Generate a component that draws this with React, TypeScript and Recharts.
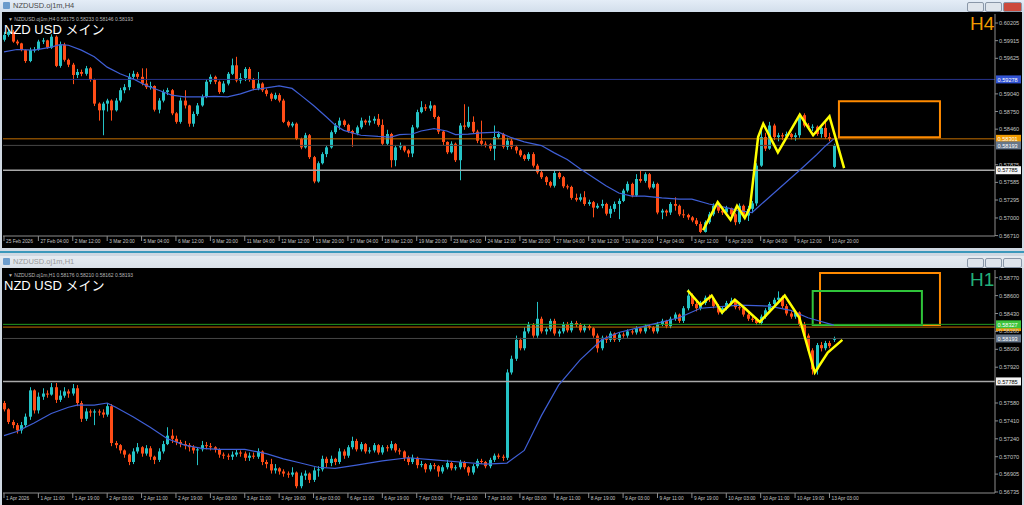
import React from "react";
import {
  ComposedChart,
  Bar,
  Line,
  XAxis,
  YAxis,
  ReferenceLine,
  ReferenceArea,
} from "recharts";

// candles: [open, high, low, close] in pips (x 0.0001)
type Candle = [number, number, number, number];

const h4Candles: Candle[] = [
  [5993,6006,5990,6001],[6001,6010,5998,6006],[6006,6009,5988,5990],[5990,5993,5984,5987],[5987,5988,5974,5976],[5976,5977,5955,5958],[5958,5980,5956,5976],[5976,5981,5972,5977],
  [5977,5993,5975,5990],[5990,5996,5986,5992],[5992,5993,5978,5980],[5980,6002,5978,5998],[5998,6000,5948,5950],[5950,5990,5947,5985],[5985,5988,5957,5960],[5960,5962,5948,5952],
  [5952,5955,5920,5935],[5935,5945,5930,5940],[5940,5944,5933,5937],[5937,5950,5934,5946],[5946,5948,5924,5927],[5927,5929,5884,5888],[5888,5890,5860,5877],[5877,5891,5836,5888],
  [5888,5896,5875,5893],[5893,5895,5860,5877],[5877,5897,5875,5893],[5893,5914,5890,5910],[5910,5920,5905,5915],[5915,5938,5910,5932],[5932,5942,5928,5937],[5937,5940,5928,5932],
  [5932,5946,5918,5921],[5921,5946,5912,5915],[5915,5924,5911,5917],[5917,5918,5875,5878],[5878,5897,5872,5893],[5893,5911,5890,5907],[5907,5914,5902,5910],[5910,5912,5869,5872],
  [5872,5874,5855,5858],[5858,5898,5855,5893],[5893,5910,5880,5885],[5885,5886,5850,5855],[5855,5875,5850,5871],[5871,5889,5868,5885],[5885,5903,5883,5899],[5899,5928,5897,5924],
  [5924,5936,5920,5932],[5932,5934,5920,5924],[5924,5926,5904,5907],[5907,5925,5905,5921],[5921,5940,5918,5937],[5937,5962,5935,5951],[5951,5965,5923,5926],[5926,5938,5921,5930],
  [5930,5948,5925,5945],[5945,5948,5924,5927],[5927,5930,5910,5913],[5913,5940,5910,5921],[5921,5923,5907,5910],[5910,5913,5900,5904],[5904,5906,5892,5896],[5896,5906,5894,5902],
  [5902,5905,5890,5893],[5893,5896,5856,5858],[5858,5860,5849,5852],[5852,5858,5849,5855],[5855,5857,5828,5830],[5830,5832,5813,5816],[5816,5840,5814,5836],[5836,5838,5797,5800],
  [5800,5802,5757,5760],[5760,5793,5758,5790],[5790,5808,5788,5805],[5805,5819,5800,5816],[5816,5844,5814,5841],[5841,5856,5838,5852],[5852,5865,5845,5860],[5860,5862,5850,5853],
  [5853,5855,5840,5843],[5843,5845,5817,5839],[5839,5852,5836,5849],[5849,5865,5846,5860],[5860,5862,5853,5857],[5857,5868,5852,5860],[5860,5867,5855,5863],[5863,5871,5850,5853],
  [5853,5862,5820,5822],[5822,5845,5820,5838],[5838,5840,5783,5795],[5795,5820,5785,5816],[5816,5824,5812,5818],[5818,5820,5808,5811],[5811,5813,5800,5806],[5806,5853,5800,5849],
  [5849,5878,5847,5874],[5874,5892,5872,5882],[5882,5887,5876,5880],[5880,5892,5876,5885],[5885,5886,5863,5866],[5866,5868,5838,5842],[5842,5844,5820,5825],[5825,5826,5805,5808],
  [5808,5826,5806,5822],[5822,5824,5792,5795],[5795,5856,5762,5852],[5852,5887,5845,5850],[5850,5883,5848,5858],[5858,5867,5838,5842],[5842,5845,5823,5827],[5827,5860,5818,5822],
  [5822,5826,5816,5821],[5821,5823,5810,5814],[5814,5852,5795,5833],[5833,5842,5830,5838],[5838,5840,5814,5817],[5817,5832,5812,5827],[5827,5830,5813,5817],[5817,5820,5806,5811],
  [5811,5813,5800,5803],[5803,5805,5794,5797],[5797,5808,5794,5805],[5805,5808,5783,5786],[5786,5789,5772,5775],[5775,5778,5764,5767],[5767,5769,5754,5759],[5759,5761,5750,5753],
  [5753,5778,5750,5774],[5774,5776,5764,5767],[5767,5769,5749,5752],[5752,5755,5747,5751],[5751,5753,5730,5733],[5733,5740,5727,5730],[5730,5740,5727,5734],[5734,5744,5720,5723],
  [5723,5730,5720,5726],[5726,5728,5701,5717],[5717,5724,5715,5720],[5720,5730,5716,5723],[5723,5725,5704,5707],[5707,5720,5700,5715],[5715,5727,5710,5723],[5723,5732,5698,5728],
  [5728,5748,5726,5745],[5745,5760,5742,5756],[5756,5758,5734,5737],[5737,5772,5735,5764],[5764,5778,5758,5761],[5761,5775,5758,5772],[5772,5774,5747,5750],[5750,5760,5748,5756],
  [5756,5758,5706,5709],[5709,5715,5698,5712],[5712,5714,5703,5709],[5709,5726,5705,5723],[5723,5734,5712,5720],[5720,5722,5703,5706],[5706,5714,5700,5705],[5705,5707,5697,5701],
  [5701,5703,5693,5696],[5696,5700,5687,5690],[5690,5694,5675,5677],[5677,5696,5676,5693],[5693,5710,5690,5706],[5706,5724,5703,5720],[5720,5722,5708,5712],[5712,5715,5705,5709],
  [5709,5720,5706,5716],[5716,5717,5702,5706],[5706,5708,5688,5693],[5693,5724,5690,5720],[5720,5722,5700,5704],[5704,5720,5695,5715],[5715,5728,5708,5724],[5724,5790,5720,5786],
  [5786,5850,5784,5833],[5833,5840,5810,5814],[5814,5858,5812,5852],[5852,5855,5828,5833],[5833,5840,5826,5836],[5836,5840,5828,5834],[5834,5842,5830,5838],[5838,5840,5829,5833],
  [5833,5840,5827,5836],[5836,5872,5832,5869],[5869,5872,5849,5852],[5852,5856,5845,5849],[5849,5854,5843,5850],[5850,5852,5835,5838],[5838,5852,5832,5848],[5848,5860,5830,5833],
  [5833,5840,5826,5830],[5784,5822,5782,5819],
];

const h1Candles: Candle[] = [
  [5758,5760,5750,5752],[5752,5753,5738,5740],[5740,5742,5734,5737],[5737,5739,5729,5732],[5732,5740,5729,5737],[5737,5748,5735,5745],[5745,5773,5742,5770],[5770,5771,5748,5751],
  [5751,5768,5748,5764],[5764,5772,5761,5767],[5767,5770,5763,5766],[5766,5777,5765,5773],[5773,5777,5758,5761],[5761,5770,5759,5765],[5765,5773,5763,5769],[5769,5771,5763,5767],
  [5767,5776,5765,5772],[5772,5775,5755,5758],[5758,5760,5740,5743],[5743,5753,5741,5750],[5750,5752,5745,5749],[5749,5752,5737,5750],[5750,5752,5746,5749],[5749,5752,5744,5747],
  [5747,5758,5745,5755],[5755,5757,5717,5720],[5720,5722,5715,5718],[5718,5719,5710,5713],[5713,5714,5706,5709],[5709,5710,5699,5702],[5702,5715,5700,5712],[5712,5720,5710,5716],
  [5716,5717,5707,5710],[5710,5718,5708,5715],[5715,5717,5704,5707],[5707,5708,5700,5704],[5704,5715,5702,5712],[5712,5722,5710,5719],[5719,5735,5718,5727],[5727,5733,5720,5724],
  [5724,5727,5718,5721],[5721,5723,5716,5719],[5719,5722,5714,5718],[5718,5720,5712,5716],[5716,5718,5710,5713],[5713,5716,5699,5714],[5714,5722,5712,5718],[5718,5721,5714,5717],
  [5717,5720,5713,5716],[5716,5717,5711,5714],[5714,5715,5706,5709],[5709,5711,5705,5708],[5708,5710,5704,5707],[5707,5712,5704,5709],[5709,5714,5707,5711],[5711,5713,5707,5710],
  [5710,5712,5703,5706],[5706,5711,5703,5708],[5708,5711,5705,5707],[5707,5715,5705,5712],[5712,5713,5699,5702],[5702,5704,5696,5700],[5700,5705,5691,5694],[5694,5700,5691,5696],
  [5696,5697,5690,5693],[5693,5695,5688,5691],[5691,5693,5687,5690],[5690,5697,5688,5692],[5692,5693,5677,5679],[5679,5692,5677,5689],[5689,5694,5685,5691],[5691,5692,5682,5685],
  [5685,5697,5683,5694],[5694,5698,5688,5695],[5695,5708,5693,5705],[5705,5707,5697,5701],[5701,5708,5698,5705],[5705,5706,5699,5702],[5702,5715,5700,5712],[5712,5714,5705,5708],
  [5708,5718,5706,5716],[5716,5726,5714,5722],[5722,5724,5712,5714],[5714,5721,5712,5719],[5719,5720,5710,5712],[5712,5716,5710,5713],[5713,5720,5711,5718],[5718,5719,5709,5711],
  [5711,5718,5709,5716],[5716,5718,5712,5715],[5715,5722,5713,5719],[5719,5720,5711,5713],[5713,5715,5709,5712],[5712,5713,5703,5706],[5706,5708,5699,5702],[5702,5709,5700,5706],
  [5706,5707,5696,5699],[5699,5703,5697,5700],[5700,5701,5692,5695],[5695,5701,5693,5699],[5699,5701,5695,5698],[5698,5699,5688,5693],[5693,5699,5691,5697],[5697,5704,5695,5701],
  [5701,5702,5694,5696],[5696,5699,5694,5697],[5697,5704,5695,5702],[5702,5703,5695,5697],[5697,5698,5689,5692],[5692,5700,5690,5698],[5698,5705,5696,5703],[5703,5705,5700,5702],
  [5702,5703,5696,5698],[5698,5706,5696,5704],[5704,5710,5702,5708],[5708,5710,5705,5707],[5707,5709,5703,5706],[5706,5790,5704,5787],[5787,5803,5785,5800],[5800,5822,5798,5818],
  [5818,5820,5808,5810],[5810,5830,5808,5826],[5826,5835,5824,5832],[5832,5834,5820,5822],[5822,5854,5820,5838],[5838,5840,5824,5826],[5826,5830,5823,5828],[5828,5838,5826,5836],
  [5836,5838,5822,5824],[5824,5828,5821,5826],[5826,5835,5824,5833],[5833,5835,5825,5827],[5827,5836,5825,5834],[5834,5836,5830,5832],[5832,5834,5825,5827],[5827,5833,5825,5831],
  [5831,5833,5827,5829],[5829,5830,5820,5822],[5822,5824,5806,5810],[5810,5822,5808,5820],[5820,5822,5815,5818],[5818,5826,5816,5824],[5824,5825,5816,5818],[5818,5825,5816,5823],
  [5823,5825,5820,5822],[5822,5828,5820,5826],[5826,5828,5823,5825],[5825,5831,5823,5829],[5829,5830,5824,5826],[5826,5833,5824,5831],[5831,5833,5828,5830],[5830,5831,5824,5826],
  [5826,5835,5824,5833],[5833,5838,5831,5836],[5836,5837,5829,5831],[5831,5840,5829,5838],[5838,5844,5836,5842],[5842,5843,5834,5836],[5836,5850,5834,5848],[5848,5866,5846,5860],
  [5860,5862,5850,5852],[5852,5854,5845,5848],[5848,5855,5846,5853],[5853,5860,5851,5858],[5858,5861,5854,5857],[5857,5858,5848,5850],[5850,5852,5842,5844],[5844,5850,5842,5848],
  [5848,5855,5846,5853],[5853,5858,5851,5855],[5855,5856,5847,5849],[5849,5851,5846,5848],[5848,5849,5840,5842],[5842,5844,5836,5838],[5838,5840,5835,5837],[5837,5839,5832,5834],
  [5834,5842,5832,5840],[5840,5848,5838,5846],[5846,5854,5844,5852],[5852,5858,5850,5856],[5856,5864,5854,5858],[5858,5860,5848,5850],[5850,5852,5841,5843],[5843,5845,5838,5840],
  [5840,5846,5838,5844],[5844,5845,5831,5833],[5833,5835,5820,5822],[5822,5824,5806,5808],[5808,5810,5785,5790],[5790,5815,5785,5813],[5813,5816,5807,5810],[5810,5817,5808,5815],
  [5815,5817,5810,5812],[5818,5821,5816,5819],
];

// moving average: [bar, pips]
const h4Ma: [number, number][] = [
  [0,5973],[3,5977],[7,5976],[11,5981],[13,5985],[15,5984],[18,5976],[21,5965],[24,5948],[27,5937],[30,5929],[33,5918],
  [36,5910],[39,5902],[42,5899],[46,5899],[49,5900],[52,5899],[55,5904],[58,5911],[61,5914],[64,5917],[67,5913],[69,5902],
  [72,5885],[75,5866],[77,5853],[79,5844],[83,5836],[87,5834],[90,5833],[92,5837],[95,5838],[97,5843],[100,5847],[103,5843],
  [105,5837],[108,5838],[111,5840],[115,5841],[118,5832],[121,5825],[125,5819],[128,5807],[131,5796],[134,5781],[137,5767],[140,5753],
  [143,5741],[146,5736],[149,5736],[153,5733],[157,5731],[160,5731],[164,5723],[168,5717],[171,5712],[174,5709],[177,5728],[181,5753],
  [185,5778],[189,5804],[191,5818],[193,5830],
];
const h1Ma: [number, number][] = [
  [0,5727],[3,5731],[7,5739],[11,5748],[15,5754],[17,5756],[21,5756],[24,5758],[26,5754],[30,5745],[34,5735],[38,5724],
  [42,5718],[46,5715],[50,5714],[53,5714],[56,5714],[61,5710],[65,5705],[69,5701],[73,5697],[77,5696],[82,5699],[88,5703],
  [94,5706],[100,5704],[106,5702],[112,5700],[117,5701],[121,5713],[125,5746],[129,5775],[134,5799],[139,5818],[143,5825],[150,5832],
  [157,5839],[162,5848],[171,5851],[178,5850],[183,5846],[187,5839],[193,5832],
];

// hand-drawn yellow zigzags: [bar, pips]
const h4Zig: [number, number][] = [
  [162.6,5680],[166,5726],[169,5697],[170.5,5720],[172.3,5700],[173.5,5717],[175.4,5833],[176.6,5855],[180,5808],[185.1,5870],[188.2,5836],[192,5867],[195.4,5782],
];
const h1Zig: [number, number][] = [
  [159,5865],[162,5851],[164.6,5860],[167,5844],[170,5856],[172.3,5848],[175.8,5835],[181.6,5860],[185,5839],[188.6,5787],[191.6,5806],[195,5818],
];

// horizontal levels and boxes
const h4Levels: [number, string][] = [[0.59278, "blue"], [0.58301, "orange"], [0.58193, "bid"], [0.57785, "white"]];
const h1Levels: [number, string][] = [[0.58301, "orangeUnder"], [0.58327, "green"], [0.58193, "bid"], [0.57785, "white"]];
const h4Boxes: [number, number, number, number, string][] = [[194.2, 217.7, 0.58325, 0.5892, "orange"]];
const h1Boxes: [number, number, number, number, string][] = [
  [189.8, 217.7, 0.5832, 0.58814, "orange"],
  [188.1, 213.5, 0.5832, 0.58643, "green"],
];

const h4Times = ["25 Feb 2026","27 Feb 04:00","2 Mar 12:00","3 Mar 20:00","5 Mar 04:00","6 Mar 12:00","9 Mar 20:00","11 Mar 04:00","12 Mar 12:00","13 Mar 20:00","17 Mar 04:00","18 Mar 12:00","19 Mar 20:00","23 Mar 04:00","24 Mar 12:00","25 Mar 20:00","27 Mar 04:00","30 Mar 12:00","31 Mar 20:00","2 Apr 04:00","3 Apr 12:00","6 Apr 20:00","8 Apr 04:00","9 Apr 12:00","10 Apr 20:00"];
const h1Times = ["1 Apr 2026","1 Apr 11:00","1 Apr 19:00","2 Apr 03:00","2 Apr 11:00","2 Apr 19:00","3 Apr 03:00","3 Apr 11:00","3 Apr 19:00","6 Apr 03:00","6 Apr 11:00","6 Apr 19:00","7 Apr 03:00","7 Apr 11:00","7 Apr 19:00","8 Apr 03:00","8 Apr 11:00","8 Apr 19:00","9 Apr 03:00","9 Apr 11:00","9 Apr 19:00","10 Apr 03:00","10 Apr 11:00","10 Apr 19:00","13 Apr 03:00"];

const h4PriceTicks = [0.60205, 0.59915, 0.59625, 0.5904, 0.5875, 0.5846, 0.57875, 0.57585, 0.57295, 0.57, 0.5671];
const h1PriceTicks = [0.5877, 0.586, 0.5843, 0.5826, 0.5809, 0.5792, 0.5758, 0.5741, 0.5724, 0.5707, 0.56905, 0.56735];

const BULL = "#25c3c6";
const BEAR = "#ff4d17";
const AXIS = "#8c8c8c";
const TXT = "#c4c4c4";
const FONT = "'Liberation Sans', Arial, sans-serif";

const LEVEL_STYLE: Record<string, { line: string; w: number; tag: string; ink: string | null }> = {
  blue: { line: "#27348c", w: 1, tag: "#3153d4", ink: "#ffffff" },
  orange: { line: "#c46f00", w: 1, tag: "#f09a00", ink: "#ffffff" },
  orangeUnder: { line: "#c46f00", w: 1, tag: "#f09a00", ink: null },
  green: { line: "#229a22", w: 1, tag: "#3cc43c", ink: "#ffffff" },
  bid: { line: "#474747", w: 1, tag: "#66768a", ink: "#ffffff" },
  white: { line: "#a8a8a8", w: 1.5, tag: "#f4f4f4", ink: "#000000" },
};
const BOX_STYLE: Record<string, string> = { orange: "#ff8a00", green: "#2fc43a" };

const X_DOMAIN: [number, number] = [-0.23, 230.5];

const toRows = (list: Candle[]) =>
  list.map(([o, h, l, c], i) => ({ x: i, o: o / 1e4, h: h / 1e4, l: l / 1e4, c: c / 1e4 }));
const toPts = (list: [number, number][]) => list.map(([x, v]) => ({ x, v: v / 1e4 }));

const CandleShape = (props: any) => {
  const { x, y, width, height, payload } = props;
  if (!payload || y == null || isNaN(y)) return null;
  const { o, h, l, c } = payload;
  const color = c >= o ? BULL : BEAR;
  const cx = Math.round(x + width / 2) + 0.5;
  const top = Math.min(y, y + height);
  const span = Math.abs(height);
  const k = h === l ? 0 : span / (h - l);
  const py = (v: number) => top + (h - v) * k;
  const b1 = py(Math.max(o, c));
  const b2 = py(Math.min(o, c));
  return (
    <g>
      <line x1={cx} x2={cx} y1={top} y2={top + span} stroke={color} strokeWidth={1} />
      <rect x={cx - 1.5} y={b1} width={3} height={Math.max(1, b2 - b1)} fill={color} />
    </g>
  );
};

const TimeTick = (props: any) => {
  const { x, y, payload, labels } = props;
  const text = labels[Math.round(payload.value / 8)];
  if (!text) return null;
  return (
    <g>
      <line x1={x} x2={x} y1={y} y2={y + 5} stroke={AXIS} strokeWidth={1} />
      <text x={x + 2} y={y + 7} fill={TXT} fontSize={4.8} fontFamily={FONT}>
        {text}
      </text>
    </g>
  );
};

const PriceTick = (props: any) => {
  const { x, y, payload } = props;
  return (
    <g>
      <line x1={x} x2={x + 3} y1={y} y2={y} stroke={AXIS} strokeWidth={1} />
      <text x={x + 4} y={y + 2} fill={TXT} fontSize={5.6} fontFamily={FONT}>
        {payload.value.toFixed(5)}
      </text>
    </g>
  );
};

const PriceTag = (props: any) => {
  const { viewBox, price, kind } = props;
  if (!viewBox) return null;
  const s = LEVEL_STYLE[kind];
  const left = viewBox.x + viewBox.width + 1;
  return (
    <g>
      <rect x={left} y={viewBox.y - 4} width={25} height={8} fill={s.tag} />
      {s.ink && (
        <text x={left + 1.5} y={viewBox.y + 2.2} fill={s.ink} fontSize={5.6} fontFamily={FONT}>
          {price.toFixed(5)}
        </text>
      )}
    </g>
  );
};

interface PanelProps {
  top: number;
  height: number;
  candles: Candle[];
  ma: [number, number][];
  zig: [number, number][];
  yDomain: [number, number];
  priceTicks: number[];
  times: string[];
  levels: [number, string][];
  boxes: [number, number, number, number, string][];
  header: string;
  tf: string;
  tfColor: string;
}

const Panel = ({ top, height, candles, ma, zig, yDomain, priceTicks, times, levels, boxes, header, tf, tfColor }: PanelProps) => {
  const rows = toRows(candles);
  const timeTicks = times.map((_, i) => i * 8);
  return (
    <div style={{ position: "absolute", left: 2, top, width: 1020, height, background: "#000" }}>
      <ComposedChart width={1020} height={height} data={rows} margin={{ top: 2, right: 0, bottom: 0, left: 1 }}>
        <XAxis
          dataKey="x"
          type="number"
          domain={X_DOMAIN}
          allowDataOverflow
          ticks={timeTicks}
          interval={0}
          height={12}
          tickSize={0}
          tickMargin={0}
          tickLine={false}
          axisLine={{ stroke: AXIS }}
          tick={<TimeTick labels={times} />}
        />
        <YAxis
          orientation="right"
          type="number"
          domain={yDomain}
          allowDataOverflow
          ticks={priceTicks}
          interval={0}
          width={27}
          tickSize={0}
          tickMargin={0}
          tickLine={false}
          axisLine={{ stroke: AXIS }}
          tick={<PriceTick />}
        />
        {levels.map(([p, kind]) => (
          <ReferenceLine
            key={`${kind}-${p}`}
            y={p}
            stroke={LEVEL_STYLE[kind].line}
            strokeWidth={LEVEL_STYLE[kind].w}
            label={<PriceTag price={p} kind={kind} />}
          />
        ))}
        {boxes.map(([x1, x2, y1, y2, kind]) => (
          <ReferenceArea
            key={`box-${kind}`}
            x1={x1}
            x2={x2}
            y1={y1}
            y2={y2}
            fill="none"
            fillOpacity={0}
            stroke={BOX_STYLE[kind]}
            strokeWidth={2}
            strokeOpacity={1}
            ifOverflow="visible"
          />
        ))}
        <Bar dataKey={(d: any) => [d.l, d.h]} barSize={3} shape={CandleShape} isAnimationActive={false} />
        <Line data={toPts(ma)} dataKey="v" type="linear" stroke="#3f5fd6" strokeWidth={1.2} dot={false} isAnimationActive={false} />
        <Line data={toPts(zig)} dataKey="v" type="linear" stroke="#ffff00" strokeWidth={2.5} dot={false} isAnimationActive={false} />
      </ComposedChart>
      <div style={{ position: "absolute", left: 6, top: 4, fontSize: 5, color: "#b8b8b8", fontFamily: FONT, whiteSpace: "nowrap" }}>
        {header}
      </div>
      <div style={{ position: "absolute", left: 2, top: 7, fontSize: 13, color: "#ffffff", fontFamily: "'Liberation Sans', 'Noto Sans CJK JP', sans-serif", whiteSpace: "nowrap" }}>
        NZD USD メイン
      </div>
      <div style={{ position: "absolute", left: 968, top: 2, fontSize: 19, color: tfColor, fontFamily: FONT, lineHeight: "20px" }}>
        {tf}
      </div>
    </div>
  );
};

const TitleBar = ({ top, title, active }: { top: number; title: string; active: boolean }) => (
  <div style={{ position: "absolute", left: 0, top, width: 1024, height: 12, background: active ? "linear-gradient(#e4edf7, #d2deeb)" : "linear-gradient(#e6ebf1, #d9e0e8)" }}>
    <div style={{ position: "absolute", left: 3, top: 2, width: 7, height: 7, background: "#6c9ccc", borderRadius: 1 }} />
    <div style={{ position: "absolute", left: 13, top: 1, fontSize: 7.5, color: active ? "#4a4a4a" : "#9a9a9a", fontFamily: FONT }}>{title}</div>
    {[967, 985, 1003].map((bx, i) => (
      <div
        key={bx}
        style={{
          position: "absolute",
          left: bx,
          top: 2,
          width: i === 2 ? 17 : 15,
          height: 8,
          borderRadius: 2,
          border: "1px solid #8a97a8",
          background: active && i === 2 ? "#cc4a3c" : "#dfe5ec",
        }}
      />
    ))}
  </div>
);

export default function App() {
  return (
    <div style={{ position: "absolute", left: 0, top: 0, width: 1024, height: 505, background: "#cfd8e2", overflow: "hidden" }}>
      <TitleBar top={0} title="NZDUSD.oj1m,H4" active />
      <Panel
        top={12}
        height={236}
        candles={h4Candles}
        ma={h4Ma}
        zig={h4Zig}
        yDomain={[0.567035, 0.603534]}
        priceTicks={h4PriceTicks}
        times={h4Times}
        levels={h4Levels}
        boxes={h4Boxes}
        header="▼ NZDUSD.oj1m,H4  0.58175 0.58233 0.58146 0.58193"
        tf="H4"
        tfColor="#f29b00"
      />
      <div style={{ position: "absolute", left: 0, top: 251, width: 1024, height: 2, background: "#3b98bb" }} />
      <TitleBar top={256} title="NZDUSD.oj1m,H1" active={false} />
      <Panel
        top={268}
        height={237}
        candles={h1Candles}
        ma={h1Ma}
        zig={h1Zig}
        yDomain={[0.567255, 0.588431]}
        priceTicks={h1PriceTicks}
        times={h1Times}
        levels={h1Levels}
        boxes={h1Boxes}
        header="▼ NZDUSD.oj1m,H1  0.58176 0.58210 0.58162 0.58193"
        tf="H1"
        tfColor="#22b07a"
      />
    </div>
  );
}
